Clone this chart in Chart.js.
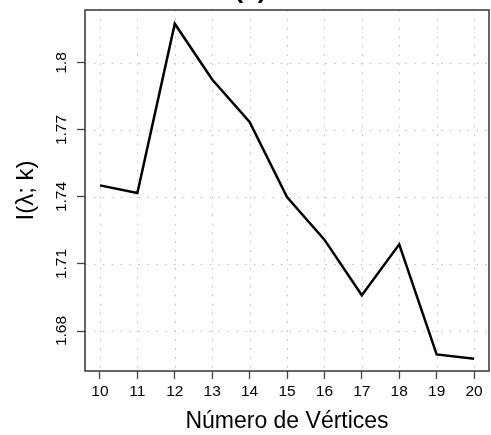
<!DOCTYPE html>
<html>
<head>
<meta charset="utf-8">
<script src="https://cdn.jsdelivr.net/npm/chart.js@4"></script>
<style>
  html, body { margin: 0; padding: 0; background: #fff; }
  #wrap { width: 491px; height: 435px; }
</style>
</head>
<body>
<div id="wrap"><canvas id="myChart1"></canvas></div>
<script>
const vertices = [10, 11, 12, 13, 14, 15, 16, 17, 18, 19, 20];
const info = [1.7452, 1.7418, 1.8176, 1.7926, 1.7736, 1.7400, 1.7209, 1.6960, 1.7188, 1.6695, 1.6676];
const yTicks = [1.68, 1.71, 1.74, 1.77, 1.8];
const xTicks = vertices;

const font = "'Liberation Sans', Arial, Helvetica, sans-serif";

// dotted grid, frame and panel label
const plotDecor = {
  id: "plotDecor",
  beforeDatasetsDraw(chart) {
    const { ctx, chartArea: a, scales } = chart;
    ctx.save();
    ctx.strokeStyle = "#bcbcbc";
    ctx.lineWidth = 1;
    ctx.setLineDash([1.5, 7.4]);
    xTicks.forEach((v) => {
      const px = Math.round(scales.x.getPixelForValue(v)) + 0.5;
      ctx.beginPath();
      ctx.moveTo(px, a.top);
      ctx.lineTo(px, a.bottom);
      ctx.stroke();
    });
    yTicks.forEach((v) => {
      const py = Math.round(scales.y.getPixelForValue(v)) + 0.5;
      ctx.beginPath();
      ctx.moveTo(a.left, py);
      ctx.lineTo(a.right, py);
      ctx.stroke();
    });
    ctx.restore();
  },
  afterDraw(chart) {
    const { ctx, chartArea: a } = chart;
    ctx.save();
    ctx.strokeStyle = "#333";
    ctx.lineWidth = 1.5;
    ctx.strokeRect(a.left, a.top, a.right - a.left, a.bottom - a.top);
    ctx.fillStyle = "#000";
    ctx.font = "bold 26px " + font;
    ctx.textAlign = "center";
    ctx.textBaseline = "alphabetic";
    ctx.fillText("(a)", 250.5, -2);
    ctx.restore();
  },
};

new Chart(document.getElementById("myChart1"), {
  type: "line",
  data: {
    datasets: [
      {
        data: vertices.map((v, i) => ({ x: v, y: info[i] })),
        borderColor: "#000",
        borderWidth: 2.5,
        pointRadius: 0,
        fill: false,
        tension: 0,
      },
    ],
  },
  options: {
    responsive: true,
    maintainAspectRatio: false,
    animation: false,
    layout: { padding: { left: 0, right: 2, top: 10, bottom: 0 } },
    plugins: {
      legend: { display: false },
      tooltip: { enabled: false },
    },
    scales: {
      x: {
        type: "linear",
        min: 9.6,
        max: 20.4,
        afterBuildTicks: (s) => { s.ticks = xTicks.map((v) => ({ value: v })); },
        afterFit: (s) => { s.height = 64; },
        border: { display: false },
        grid: {
          drawOnChartArea: false,
          tickLength: 8,
          tickColor: "#444",
          tickWidth: 1.3,
        },
        ticks: {
          autoSkip: false,
          maxRotation: 0,
          padding: 3,
          color: "#000",
          font: { family: font, size: 15.5 },
          callback: (v) => String(v),
        },
        title: {
          display: true,
          text: "Número de Vértices",
          color: "#000",
          font: { family: font, size: 23 },
          padding: { top: 0, bottom: 0 },
        },
      },
      y: {
        min: 1.66209,
        max: 1.82373,
        afterBuildTicks: (s) => { s.ticks = yTicks.map((v) => ({ value: v })); },
        afterFit: (s) => { s.width = 85; },
        border: { display: false },
        grid: {
          drawOnChartArea: false,
          tickLength: 8,
          tickColor: "#444",
          tickWidth: 1.3,
        },
        ticks: {
          autoSkip: false,
          minRotation: 90,
          maxRotation: 90,
          crossAlign: "center",
          padding: 0,
          color: "#000",
          font: { family: font, size: 15.5 },
          callback: (v) => String(v),
        },
        title: {
          display: true,
          text: "I(λ; k)",
          color: "#000",
          font: { family: font, size: 24 },
          padding: { top: 12, bottom: 0 },
        },
      },
    },
  },
  plugins: [plotDecor],
});
</script>
</body>
</html>
